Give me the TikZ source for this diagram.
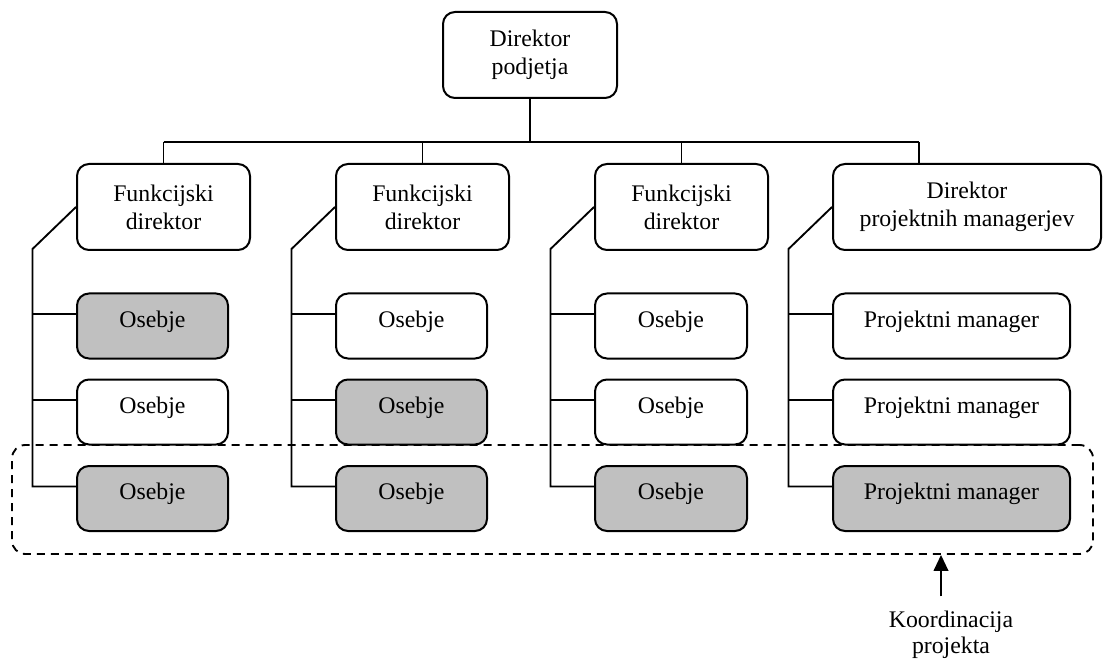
\documentclass[tikz,border=0pt]{standalone}
\usepackage{fontspec}
\setmainfont{Liberation Serif}
\usetikzlibrary{arrows.meta,calc}
\definecolor{boxgray}{HTML}{C0C0C0}
\begin{document}
\begin{tikzpicture}[x=0.75pt,y=-0.75pt,
  box/.style={draw, line width=1.5pt, rounded corners=9pt, fill=white, inner sep=0pt,
    align=center, font=\fontsize{17.85pt}{21pt}\selectfont, minimum height={86*0.75pt}},
  sbox/.style={box, minimum height={65*0.75pt}, text height=12.5pt, text depth=11pt},
  shaded/.style={fill=boxgray},
  link/.style={line width=1.4pt},
  dashbox/.style={draw, line width=1.4pt, dash pattern=on 6pt off 4.5pt, rounded corners=10pt, inner sep=0pt},
  lbl/.style={align=center, inner sep=0pt, font=\fontsize{17.85pt}{19.5pt}\selectfont}
]
\useasboundingbox (0,0) rectangle (1103,659);

% coordination frame
\node[dashbox, minimum width={1081*0.75pt}, minimum height={109*0.75pt}] (coord) at (552.5,499.5) {};

% top level
\node[box, minimum width={174*0.75pt}] (top) at (530,55) {Direktor\\podjetja};

% second level
\node[box, minimum width={173*0.75pt}] (f1) at (163.5,207) {Funkcijski\\direktor};
\node[box, minimum width={173*0.75pt}] (f2) at (422.5,207) {Funkcijski\\direktor};
\node[box, minimum width={173*0.75pt}] (f3) at (681.5,207) {Funkcijski\\direktor};
\node[box, minimum width={268*0.75pt}] (f4) at (967,207) {Direktor\\projektnih managerjev};

% staff column 1
\node[sbox, shaded, minimum width={151*0.75pt}] (o1a) at (152.5,326) {Osebje};
\node[sbox, minimum width={151*0.75pt}] (o1b) at (152.5,412) {Osebje};
\node[sbox, shaded, minimum width={151*0.75pt}] (o1c) at (152.5,498.5) {Osebje};
% staff column 2
\node[sbox, minimum width={151*0.75pt}] (o2a) at (411.5,326) {Osebje};
\node[sbox, shaded, minimum width={151*0.75pt}] (o2b) at (411.5,412) {Osebje};
\node[sbox, shaded, minimum width={151*0.75pt}] (o2c) at (411.5,498.5) {Osebje};
% staff column 3
\node[sbox, minimum width={152*0.75pt}] (o3a) at (671,326) {Osebje};
\node[sbox, minimum width={152*0.75pt}] (o3b) at (671,412) {Osebje};
\node[sbox, shaded, minimum width={152*0.75pt}] (o3c) at (671,498.5) {Osebje};
% column 4
\node[sbox, minimum width={237*0.75pt}] (o4a) at (951.5,326) {Projektni manager};
\node[sbox, minimum width={237*0.75pt}] (o4b) at (951.5,412) {Projektni manager};
\node[sbox, shaded, minimum width={237*0.75pt}] (o4c) at (951.5,498.5) {Projektni manager};

% bus
\coordinate (busL) at (163.5,142);
\coordinate (busR) at (919,142);
\draw[link] (busL) -- (busR);
\draw[link] (top.south) -- (top.south |- busL);
\draw[link] (busL) -- (f1.north);
\draw[link] (f2.north |- busL) -- (f2.north);
\draw[link] (f3.north |- busL) -- (f3.north);
\draw[link] (busR) -- (busR |- f4.north);

% branch points
\foreach \c in {1,2,3,4}{
  \foreach \r in {a,b,c}{
    \coordinate (b\c\r) at ($(o\c\r.north west)+(0,21.5)$);
  }
  \draw[link] (f\c.west) -- ++(-43.5,42) coordinate (s\c) -- (s\c |- b\c c) -- (b\c c);
  \draw[link] (s\c |- b\c a) -- (b\c a);
  \draw[link] (s\c |- b\c b) -- (b\c b);
}

% label and arrow
\node[lbl] (lab) at (951,634.5) {Koordinacija\\projekta};
\coordinate (atail) at ($(lab.north)+(-10,-14)$);
\draw[link, -{Triangle[length=12pt,width=11pt]}] (atail) -- (atail |- coord.south);
\end{tikzpicture}
\end{document}
